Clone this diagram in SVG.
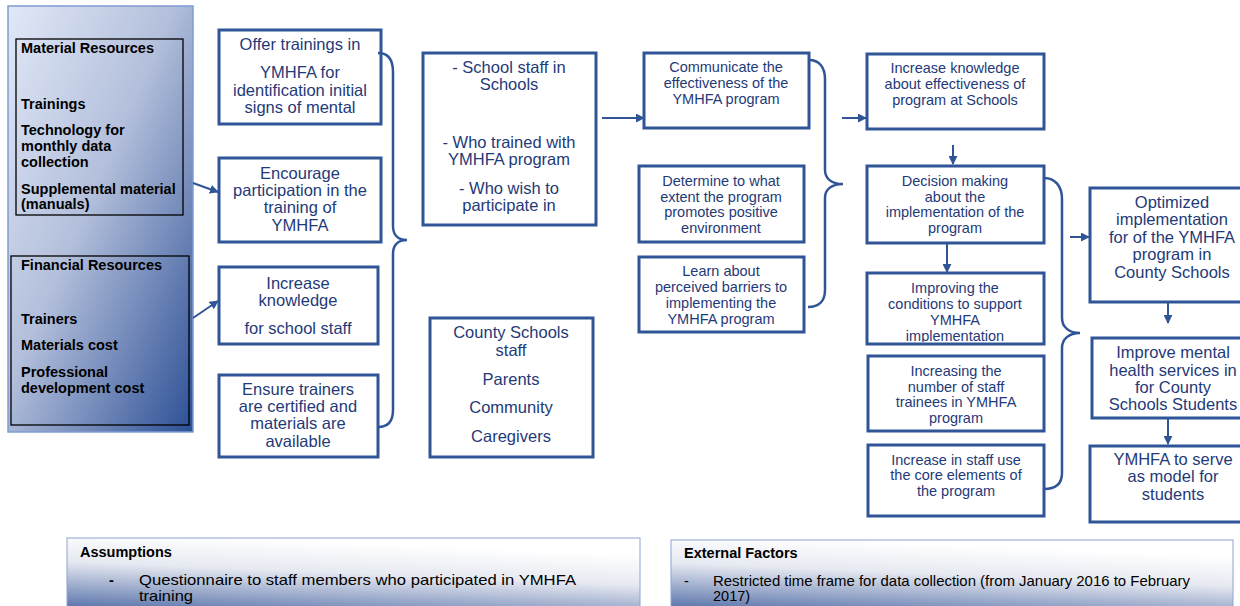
<svg xmlns="http://www.w3.org/2000/svg" width="1240" height="606" viewBox="0 0 1240 606">
<defs>
<linearGradient id="gLeft" x1="0" y1="0" x2="1" y2="1">
<stop offset="0" stop-color="#e1e8f7"/>
<stop offset="0.45" stop-color="#b3bfdb"/>
<stop offset="1" stop-color="#2c4f95"/>
</linearGradient>
<linearGradient id="gBottom" x1="0.3" y1="0" x2="0" y2="1">
<stop offset="0" stop-color="#ffffff"/>
<stop offset="0.35" stop-color="#e6e9f1"/>
<stop offset="1" stop-color="#3b5a9b"/>
</linearGradient>
<marker id="arr" viewBox="0 0 10 10" refX="9" refY="5" markerWidth="9" markerHeight="9" markerUnits="userSpaceOnUse" orient="auto">
<path d="M0,0 L10,5 L0,10 z" fill="#2f5597"/>
</marker>
<clipPath id="clipL"><rect x="869" y="275" width="173" height="67"/></clipPath>
</defs>
<style>
.box{fill:#ffffff;stroke:#2f5597;stroke-width:3}
.t{font-family:"Liberation Sans",Arial,sans-serif;fill:#1f3a78;text-anchor:middle}
.t16{font-size:16.5px}
.t13{font-size:14.5px}
.lb{font-family:"Liberation Sans",Arial,sans-serif;font-weight:bold;font-size:14.5px;fill:#000}
.ib{fill:none;stroke:#000;stroke-width:1.3}
.con{fill:none;stroke:#2f5597;stroke-width:2}
.br{fill:none;stroke:#2f5597;stroke-width:2.5}
.bt{font-family:"Liberation Sans",Arial,sans-serif;font-size:14.5px;fill:#000}
</style>

<g id="inputs">
<rect x="8" y="6" width="185" height="426" fill="url(#gLeft)" stroke="#7f9bd4" stroke-width="1.5"/>
<rect class="ib" x="16" y="39" width="167" height="176"/>
<text class="lb" x="21" y="53">Material Resources</text>
<text class="lb" x="21" y="109">Trainings</text>
<text class="lb" x="21" y="135">Technology for</text>
<text class="lb" x="21" y="151">monthly data</text>
<text class="lb" x="21" y="167">collection</text>
<text class="lb" x="21" y="194">Supplemental material</text>
<text class="lb" x="21" y="209">(manuals)</text>
<rect class="ib" x="11" y="256" width="178" height="169"/>
<text class="lb" x="21" y="270">Financial Resources</text>
<text class="lb" x="21" y="324">Trainers</text>
<text class="lb" x="21" y="350">Materials cost</text>
<text class="lb" x="21" y="377">Professional</text>
<text class="lb" x="21" y="393">development cost</text>
</g>

<g id="offer">
<rect class="box" x="219" y="30" width="162" height="94"/>
<text class="t t16" x="300" y="50">Offer trainings in</text>
<text class="t t16" x="300" y="78">YMHFA for</text>
<text class="t t16" x="300" y="96">identification initial</text>
<text class="t t16" x="300" y="113">signs of mental</text>
</g>
<g id="encourage">
<rect class="box" x="219" y="158" width="162" height="84"/>
<text class="t t16" x="300" y="179">Encourage</text>
<text class="t t16" x="300" y="196">participation in the</text>
<text class="t t16" x="300" y="213">training of</text>
<text class="t t16" x="300" y="231">YMHFA</text>
</g>
<g id="increase">
<rect class="box" x="219" y="267" width="159" height="77"/>
<text class="t t16" x="298" y="289">Increase</text>
<text class="t t16" x="298" y="306">knowledge</text>
<text class="t t16" x="298" y="334">for school staff</text>
</g>
<g id="ensure">
<rect class="box" x="219" y="375" width="159" height="82"/>
<text class="t t16" x="298" y="395">Ensure trainers</text>
<text class="t t16" x="298" y="412">are certified and</text>
<text class="t t16" x="298" y="429">materials are</text>
<text class="t t16" x="298" y="447">available</text>
</g>

<g id="staff">
<rect class="box" x="423" y="53" width="173" height="172"/>
<text class="t t16" x="509" y="73">- School staff in</text>
<text class="t t16" x="509" y="90">Schools</text>
<text class="t t16" x="509" y="148">- Who trained with</text>
<text class="t t16" x="509" y="165">YMHFA program</text>
<text class="t t16" x="509" y="194">- Who wish to</text>
<text class="t t16" x="509" y="211">participate in</text>
</g>
<g id="county">
<rect class="box" x="430" y="318" width="163" height="139"/>
<text class="t t16" x="511" y="338">County Schools</text>
<text class="t t16" x="511" y="356">staff</text>
<text class="t t16" x="511" y="385">Parents</text>
<text class="t t16" x="511" y="413">Community</text>
<text class="t t16" x="511" y="442">Caregivers</text>
</g>

<g id="communicate">
<rect class="box" x="644" y="53" width="165" height="75"/>
<text class="t t13" x="726" y="72">Communicate the</text>
<text class="t t13" x="726" y="88">effectiveness of the</text>
<text class="t t13" x="726" y="104">YMHFA program</text>
</g>
<g id="determine">
<rect class="box" x="639" y="166" width="165" height="76"/>
<text class="t t13" x="721" y="186">Determine to what</text>
<text class="t t13" x="721" y="202">extent the program</text>
<text class="t t13" x="721" y="217">promotes positive</text>
<text class="t t13" x="721" y="233">environment</text>
</g>
<g id="learn">
<rect class="box" x="639" y="257" width="165" height="75"/>
<text class="t t13" x="721" y="276">Learn about</text>
<text class="t t13" x="721" y="292">perceived barriers to</text>
<text class="t t13" x="721" y="308">implementing the</text>
<text class="t t13" x="721" y="324">YMHFA program</text>
</g>

<g id="knowledge">
<rect class="box" x="867" y="54" width="177" height="75"/>
<text class="t t13" x="955" y="73">Increase knowledge</text>
<text class="t t13" x="955" y="89">about effectiveness of</text>
<text class="t t13" x="955" y="105">program at Schools</text>
</g>
<g id="decision">
<rect class="box" x="867" y="166" width="177" height="77"/>
<text class="t t13" x="955" y="186">Decision making</text>
<text class="t t13" x="955" y="202">about the</text>
<text class="t t13" x="955" y="217">implementation of the</text>
<text class="t t13" x="955" y="233">program</text>
</g>
<g id="improving">
<rect class="box" x="867" y="273" width="177" height="71"/>
<g clip-path="url(#clipL)">
<text class="t t13" x="955" y="293">Improving the</text>
<text class="t t13" x="955" y="309">conditions to support</text>
<text class="t t13" x="955" y="325">YMHFA</text>
<text class="t t13" x="955" y="341">implementation</text>
</g>
</g>
<g id="increasing">
<rect class="box" x="868" y="356" width="176" height="75"/>
<text class="t t13" x="956" y="376">Increasing the</text>
<text class="t t13" x="956" y="392">number of staff</text>
<text class="t t13" x="956" y="407">trainees in YMHFA</text>
<text class="t t13" x="956" y="423">program</text>
</g>
<g id="core">
<rect class="box" x="868" y="445" width="176" height="71"/>
<text class="t t13" x="956" y="465">Increase in staff use</text>
<text class="t t13" x="956" y="480">the core elements of</text>
<text class="t t13" x="956" y="496">the program</text>
</g>

<g id="optimized">
<rect class="box" x="1090" y="188" width="166" height="114"/>
<text class="t t16" x="1172" y="208">Optimized</text>
<text class="t t16" x="1172" y="225">implementation</text>
<text class="t t16" x="1172" y="243">for of the YMHFA</text>
<text class="t t16" x="1172" y="260">program in</text>
<text class="t t16" x="1172" y="278">County Schools</text>
</g>
<g id="improve">
<rect class="box" x="1092" y="338" width="164" height="80"/>
<text class="t t16" x="1173" y="358">Improve mental</text>
<text class="t t16" x="1173" y="376">health services in</text>
<text class="t t16" x="1173" y="393">for County</text>
<text class="t t16" x="1173" y="410">Schools Students</text>
</g>
<g id="model">
<rect class="box" x="1090" y="446" width="166" height="76"/>
<text class="t t16" x="1173" y="465">YMHFA to serve</text>
<text class="t t16" x="1173" y="482">as model for</text>
<text class="t t16" x="1173" y="500">students</text>
</g>

<g id="assumptions">
<rect x="67" y="538" width="573" height="80" fill="url(#gBottom)" stroke="#8ea3d3" stroke-width="1"/>
<text class="bt" x="80" y="557" font-weight="bold">Assumptions</text>
<text class="bt" x="109" y="585" font-weight="bold">-</text>
<text class="bt" x="139" y="585" textLength="437" lengthAdjust="spacingAndGlyphs">Questionnaire to staff members who participated in YMHFA</text>
<text class="bt" x="139" y="601" textLength="54" lengthAdjust="spacingAndGlyphs">training</text>
</g>
<g id="external">
<rect x="671" y="540" width="562" height="78" fill="url(#gBottom)" stroke="#8ea3d3" stroke-width="1"/>
<text class="bt" x="684" y="558" font-weight="bold">External Factors</text>
<text class="bt" x="684" y="586">-</text>
<text class="bt" x="713" y="586" textLength="477" lengthAdjust="spacingAndGlyphs">Restricted time frame for data collection (from January 2016 to February</text>
<text class="bt" x="713" y="601">2017)</text>
</g>

<g id="connectors">
<line class="con" x1="193" y1="183" x2="218" y2="192" marker-end="url(#arr)"/>
<line class="con" x1="193" y1="318" x2="218" y2="301" marker-end="url(#arr)"/>
<path class="br" d="M378,53 C388,53 393,60 393,72 L393,226 C393,235 398,240 407,240 C398,240 393,245 393,254 L393,410 C393,421 388,427 378,427"/>
<line class="con" x1="602" y1="118" x2="644" y2="118" marker-end="url(#arr)"/>
<path class="br" d="M809,60 C819,60 825,67 825,79 L825,170 C825,179 832,184 843,184 C832,184 825,189 825,198 L825,290 C825,301 819,307 808,307"/>
<line class="con" x1="842" y1="118" x2="866" y2="118" marker-end="url(#arr)"/>
<line class="con" x1="953" y1="145" x2="953" y2="164" marker-end="url(#arr)"/>
<line class="con" x1="947" y1="244" x2="947" y2="272" marker-end="url(#arr)"/>
<path class="br" d="M1044,178 C1055,178 1062,186 1062,199 L1062,318 C1062,327 1069,333 1080,333 C1069,333 1062,339 1062,348 L1062,473 C1062,484 1055,489 1044,489"/>
<line class="con" x1="1070" y1="237" x2="1089" y2="237" marker-end="url(#arr)"/>
<line class="con" x1="1168" y1="303" x2="1168" y2="323" marker-end="url(#arr)"/>
<line class="con" x1="1168" y1="419" x2="1168" y2="444" marker-end="url(#arr)"/>
</g>
</svg>
